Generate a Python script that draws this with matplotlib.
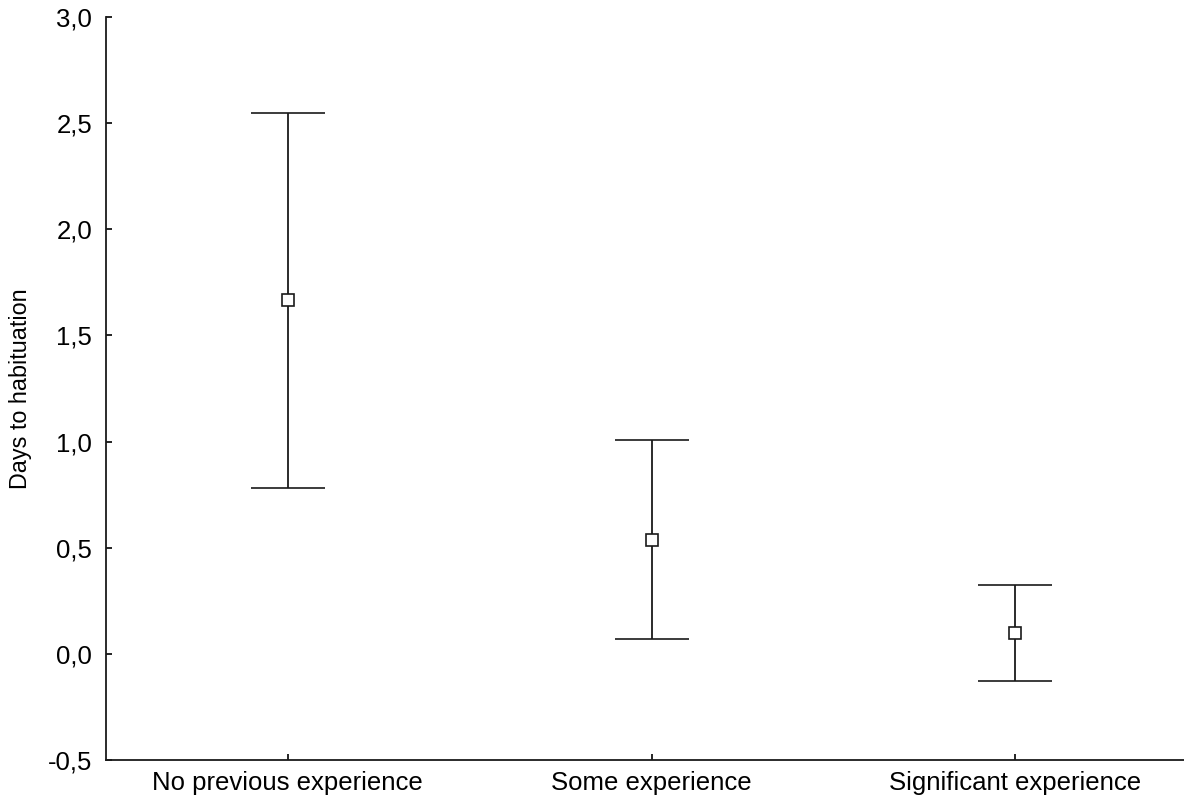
import matplotlib.pyplot as plt
from matplotlib.ticker import FuncFormatter, MultipleLocator

groups = ['No previous experience', 'Some experience', 'Significant experience']
means = [1.667, 0.537, 0.099]
upper = [2.548, 1.008, 0.325]
lower = [0.782, 0.071, -0.127]

plt.rcParams['font.family'] = ['Liberation Sans', 'DejaVu Sans']

fig = plt.figure(figsize=(11.84, 7.99), dpi=100)
ax = fig.add_axes([106 / 1184, 39 / 799, 1091 / 1184, 743 / 799])

x = list(range(len(groups)))
err = [[m - lo for m, lo in zip(means, lower)], [up - m for m, up in zip(means, upper)]]
ax.errorbar(x, means, yerr=err, fmt='s', color='#1a1a1a', ecolor='#1a1a1a',
            elinewidth=1.3, capsize=26.6, capthick=1.3, markersize=8,
            markerfacecolor='white', markeredgecolor='#1a1a1a', markeredgewidth=1.2)

ax.set_xlim(-0.5, 2.5)
ax.set_ylim(-0.5, 3.0)
ax.set_xticks(x)
ax.set_xticklabels(groups)
ax.yaxis.set_major_locator(MultipleLocator(0.5))
ax.yaxis.set_major_formatter(FuncFormatter(lambda v, p: f'{v:.1f}'.replace('.', ',')))
ax.tick_params(axis='y', direction='in', length=4, width=1.2, pad=10, labelsize=18.5)
ax.tick_params(axis='x', direction='in', length=4, width=1.2, pad=8, labelsize=18.5)
ax.set_ylabel('Days to habituation', fontsize=16.8, labelpad=11)

for s in ['top', 'right']:
    ax.spines[s].set_visible(False)
for s in ['left', 'bottom']:
    ax.spines[s].set_linewidth(1.3)
    ax.spines[s].set_color('#1a1a1a')

fig.savefig('out.png', dpi=100)
